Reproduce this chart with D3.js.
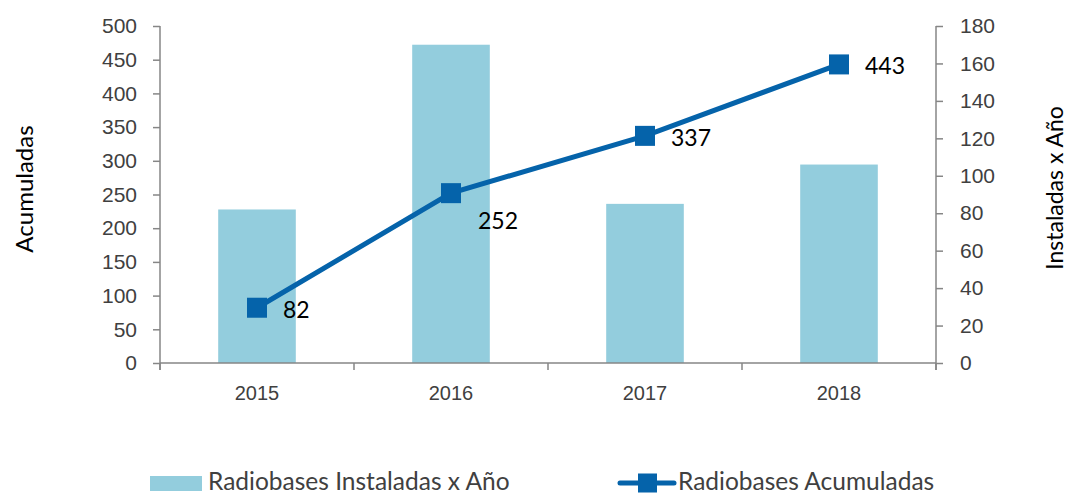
<!DOCTYPE html>
<html><head><meta charset="utf-8">
<script src="https://cdn.jsdelivr.net/npm/d3@7/dist/d3.min.js"></script>
<style>
html,body{margin:0;padding:0;background:#fff;}
svg{display:block;font-family:Lato, "Open Sans", sans-serif;}
</style></head>
<body>
<svg id="chart" width="1068" height="494"></svg>
<script>
const years = ["2015", "2016", "2017", "2018"];
const instaladas = [82, 170, 85, 106];      // bars, right axis
const acumuladas = [82, 252, 337, 443];     // line, left axis
const leftTicks = [0, 50, 100, 150, 200, 250, 300, 350, 400, 450, 500];
const rightTicks = [0, 20, 40, 60, 80, 100, 120, 140, 160, 180];
const seriesNames = ["Radiobases Instaladas x Año", "Radiobases Acumuladas"];
const axisTitles = ["Acumuladas", "Instaladas x Año"];

const barColor = "#93CDDD", lineColor = "#0563AA", axisColor = "#868686", tickText = "#404040";
const svg = d3.select("#chart");
const L = 160, R = 936, T = 26, B = 363;

const x = d3.scaleBand().domain(years).range([L, R]).padding(0);
const yL = d3.scaleLinear().domain([0, 500]).range([B, T]);
const yR = d3.scaleLinear().domain([0, 180]).range([B, T]);
const barW = x.bandwidth() * 0.4;

// bars
svg.append("g").selectAll("rect").data(years).join("rect")
  .attr("x", d => x(d) + x.bandwidth()/2 - barW/2)
  .attr("y", (d,i) => yR(instaladas[i]))
  .attr("width", barW)
  .attr("height", (d,i) => B - yR(instaladas[i]))
  .attr("fill", barColor);

// left axis
const gl = svg.append("g").attr("transform", `translate(${L},0)`)
  .call(d3.axisLeft(yL).tickValues(leftTicks).tickSize(7).tickSizeOuter(0).tickPadding(16));
// right axis
const gr = svg.append("g").attr("transform", `translate(${R},0)`)
  .call(d3.axisRight(yR).tickValues(rightTicks).tickSize(7).tickSizeOuter(0).tickPadding(17));
[gl, gr].forEach(g => {
  g.select(".domain").attr("stroke", axisColor).attr("stroke-width", 1.5)
    .attr("d", `M0,${T}V${B+7}`);
  g.selectAll(".tick line").attr("stroke", axisColor).attr("stroke-width", 1.5);
  g.selectAll(".tick text").attr("fill", tickText).style("font-size", "21px");
});
gr.selectAll(".tick text").attr("text-anchor", "start");

// bottom axis
const gb = svg.append("g").attr("transform", `translate(0,${B})`)
  .call(d3.axisBottom(x).tickSize(0).tickPadding(23));
gb.select(".domain").remove();
gb.selectAll(".tick text").attr("fill", tickText).style("font-size", "20px");
svg.append("line").attr("x1", L).attr("x2", R).attr("y1", B).attr("y2", B)
  .attr("stroke", axisColor).attr("stroke-width", 1.5);
const bounds = years.map(d => x(d)).concat([x(years[years.length-1]) + x.step()]);
svg.append("g").selectAll("line").data(bounds).join("line")
  .attr("x1", d => d).attr("x2", d => d).attr("y1", B).attr("y2", B + 7)
  .attr("stroke", axisColor).attr("stroke-width", 1.5);

// line
const cx = d => x(d) + x.bandwidth()/2;
const line = d3.line().x((d,i) => cx(years[i])).y(d => yL(d));
svg.append("path").datum(acumuladas).attr("d", line)
  .attr("fill", "none").attr("stroke", lineColor).attr("stroke-width", 5);
const ms = 20;
svg.append("g").selectAll("rect").data(acumuladas).join("rect")
  .attr("x", (d,i) => cx(years[i]) - ms/2).attr("y", d => yL(d) - ms/2)
  .attr("width", ms).attr("height", ms).attr("fill", lineColor);
svg.append("g").selectAll("text").data(acumuladas).join("text")
  .attr("x", (d,i) => cx(years[i]) + (i === 1 ? 27 : 26))
  .attr("y", (d,i) => yL(d) + (i === 1 ? 27 : 1))
  .attr("dominant-baseline", "central")
  .attr("fill", "#000").style("font-size", "23px")
  .text(d => d);

// axis titles
svg.append("text").attr("transform", `translate(23,189) rotate(-90)`)
  .attr("text-anchor", "middle").attr("dominant-baseline", "central")
  .attr("fill", "#000").style("font-size", "24px").text(axisTitles[0]);
svg.append("text").attr("transform", `translate(1063,188) rotate(-90)`)
  .attr("text-anchor", "middle")
  .attr("fill", "#000").style("font-size", "23px").text(axisTitles[1]);

// legend
const lg = svg.append("g");
lg.append("rect").attr("x", 150).attr("y", 476).attr("width", 52).attr("height", 15).attr("fill", barColor);
lg.append("text").attr("x", 208).attr("y", 490)
  .attr("fill", tickText).style("font-size", "24.5px").text(seriesNames[0]);
lg.append("line").attr("x1", 620).attr("x2", 674).attr("y1", 483).attr("y2", 483)
  .attr("stroke", lineColor).attr("stroke-width", 5).attr("stroke-linecap", "round");
lg.append("rect").attr("x", 638).attr("y", 473.5).attr("width", 19).attr("height", 19).attr("fill", lineColor);
lg.append("text").attr("x", 678).attr("y", 490)
  .attr("fill", tickText).style("font-size", "24.5px").text(seriesNames[1]);
</script>
</body></html>
